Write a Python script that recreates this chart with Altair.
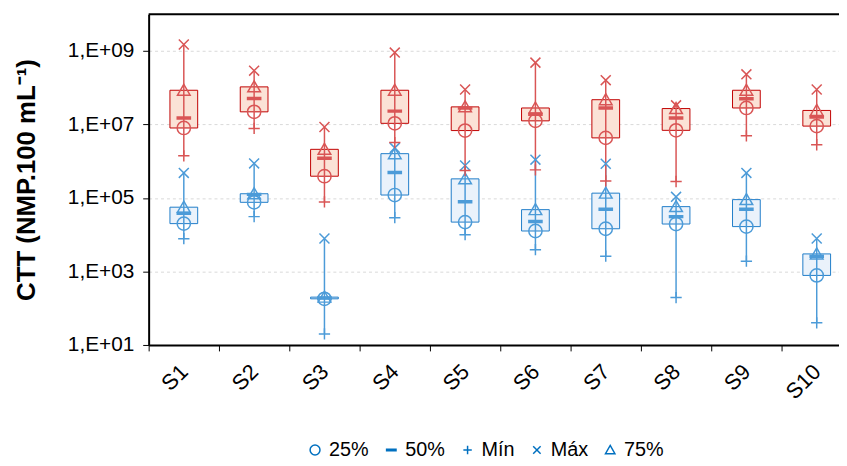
import altair as alt
import pandas as pd

categories = ["S1", "S2", "S3", "S4", "S5", "S6", "S7", "S8", "S9", "S10"]

red_min = [1.4e6, 7.8e6, 7.8e4, 3.2e6, 5.6e5, 5.8e5, 2.9e5, 2.8e5, 4.9e6, 2.8e6]
red_q1 = [8.0e6, 2.2e7, 3.9e5, 1.07e7, 6.8e6, 1.25e7, 4.3e6, 6.9e6, 2.8e7, 9.0e6]
red_med = [1.5e7, 5.1e7, 1.2e6, 2.3e7, 2.8e7, 1.9e7, 2.8e7, 1.5e7, 5.0e7, 1.6e7]
red_q3 = [8.5e7, 1.05e8, 2.1e6, 8.5e7, 3.0e7, 2.8e7, 4.7e7, 2.7e7, 8.5e7, 2.4e7]
red_max = [1.5e9, 2.9e8, 8.5e6, 9.0e8, 8.9e7, 4.8e8, 1.6e8, 3.3e7, 2.3e8, 8.9e7]

blue_min = [7.8e3, 3.1e4, 20, 2.9e4, 1.0e4, 3.9e3, 2.6e3, 195, 1.9e3, 40]
blue_q1 = [2.0e4, 7.6e4, 180, 1.2e5, 2.2e4, 1.26e4, 1.45e4, 1.95e4, 1.66e4, 780]
blue_med = [3.8e4, 1.25e5, 190, 4.9e5, 7.9e4, 2.3e4, 4.9e4, 3.1e4, 4.9e4, 2.6e3]
blue_q3 = [5.6e4, 1.3e5, 200, 1.6e6, 3.3e5, 4.8e4, 1.35e5, 5.8e4, 9.0e4, 3.0e3]
blue_max = [4.8e5, 8.7e5, 7.9e3, 2.3e6, 7.6e5, 1.1e6, 8.5e5, 1.07e5, 4.8e5, 7.9e3]

stats = ["25%", "50%", "Mín", "Máx", "75%"]
groups = ["rojo", "azul"]

series = {
    "rojo": {"Mín": red_min, "25%": red_q1, "50%": red_med, "75%": red_q3, "Máx": red_max},
    "azul": {"Mín": blue_min, "25%": blue_q1, "50%": blue_med, "75%": blue_q3, "Máx": blue_max},
}

box_rows = []
pt_rows = []
for g in ["azul", "rojo"]:
    s = series[g]
    for i, c in enumerate(categories):
        box_rows.append({"cat": c, "grupo": g, "q1": s["25%"][i], "q3": s["75%"][i],
                         "mn": s["Mín"][i], "mx": s["Máx"][i]})
        for st in stats:
            pt_rows.append({"cat": c, "grupo": g, "stat": st, "v": s[st][i]})
box_df = pd.DataFrame(box_rows)
pt_df = pd.DataFrame(pt_rows)

FONT = "Liberation Sans"

xscale = alt.Scale(domain=categories, range=[0, 710], paddingInner=0, paddingOuter=0)
yscale = alt.Scale(type="log", domain=[10, 1e10], nice=False)

x_axis = alt.Axis(
    title=None, labelAngle=-45, labelAlign="right", labelBaseline="middle",
    labelFont=FONT, labelFontSize=22, labelColor="#000000", labelPadding=17,
    tickBand="extent", ticks=True, tickSize=6, tickColor="#000000", tickWidth=1,
    domainColor="#000000", domainWidth=2, grid=False,
)
y_axis = alt.Axis(
    title="CTT (NMP.100 mL⁻¹)", titleFont=FONT, titleFontSize=26, titleFontWeight="bold",
    titleColor="#000000", titlePadding=28,
    values=[10, 1e3, 1e5, 1e7, 1e9],
    labelExpr="'1,E+' + (round(log(datum.value)/LN10) < 10 ? '0' : '') + round(log(datum.value)/LN10)",
    labelFont=FONT, labelFontSize=21, labelColor="#000000", labelPadding=9,
    tickSize=6, tickColor="#000000", tickWidth=1,
    domainColor="#000000", domainWidth=2,
    grid=True, gridColor="#D9D9D9", gridDash=[3, 3], gridWidth=1,
)

fill_scale = alt.Scale(domain=groups, range=["#FBE2D6", "#EAF2FB"])
stroke_scale = alt.Scale(domain=groups, range=["#C00000", "#1F7CC8"])
whisk_scale = alt.Scale(domain=groups, range=["#D95555", "#4C9BD8"])
pt_scale = alt.Scale(domain=groups, range=["#C00000", "#0070C0"])

boxes = alt.Chart(box_df).mark_bar(width=28, strokeWidth=1).encode(
    x=alt.X("cat:N", sort=categories, scale=xscale, axis=x_axis),
    y=alt.Y("q1:Q", scale=yscale, axis=y_axis),
    y2="q3:Q",
    fill=alt.Fill("grupo:N", scale=fill_scale, legend=None),
    stroke=alt.Stroke("grupo:N", scale=stroke_scale, legend=None),
)

whiskers = alt.Chart(box_df).mark_rule(strokeWidth=1.5).encode(
    x=alt.X("cat:N", sort=categories, scale=xscale),
    y=alt.Y("mn:Q", scale=yscale),
    y2="mx:Q",
    color=alt.Color("grupo:N", scale=whisk_scale, legend=None),
)

shape_range = [
    "circle",
    "M-1.1,-0.15H1.1M-1.1,-0.05H1.1M-1.1,0.05H1.1M-1.1,0.15H1.1",
    "M-0.85,0H0.85M0,-0.85V0.85",
    "M-0.75,-0.75L0.75,0.75M-0.75,0.75L0.75,-0.75",
    "M0,-0.9L0.95,0.75H-0.95Z",
]

points = alt.Chart(pt_df).mark_point(filled=False, strokeWidth=1.5, size=180, opacity=1).encode(
    x=alt.X("cat:N", sort=categories, scale=xscale),
    y=alt.Y("v:Q", scale=yscale),
    color=alt.Color("grupo:N", scale=pt_scale, legend=None),
    shape=alt.Shape(
        "stat:N",
        scale=alt.Scale(domain=stats, range=shape_range),
        legend=alt.Legend(
            title=None, orient="none", legendX=158, legendY=430, direction="horizontal",
            labelFont=FONT, labelFontSize=20, labelColor="#000000", labelOffset=4,
            symbolSize=100, symbolStrokeWidth=1.5, symbolStrokeColor="#0070C0",
            symbolFillColor="transparent", columnPadding=12,
        ),
    ),
)

top_border = alt.Chart(pd.DataFrame({"top": [1e10]})).mark_rule(color="#000000", strokeWidth=2).encode(
    y=alt.Y("top:Q", scale=yscale)
)

chart = alt.layer(boxes, whiskers, points, top_border).properties(
    width=697, height=334,
    autosize=alt.AutoSizeParams(type="none"),
    padding={"left": 142, "top": 4, "right": 0, "bottom": 120},
).configure_view(stroke=None)

chart.save("out.html", embed_options={"renderer": "svg", "actions": False})
